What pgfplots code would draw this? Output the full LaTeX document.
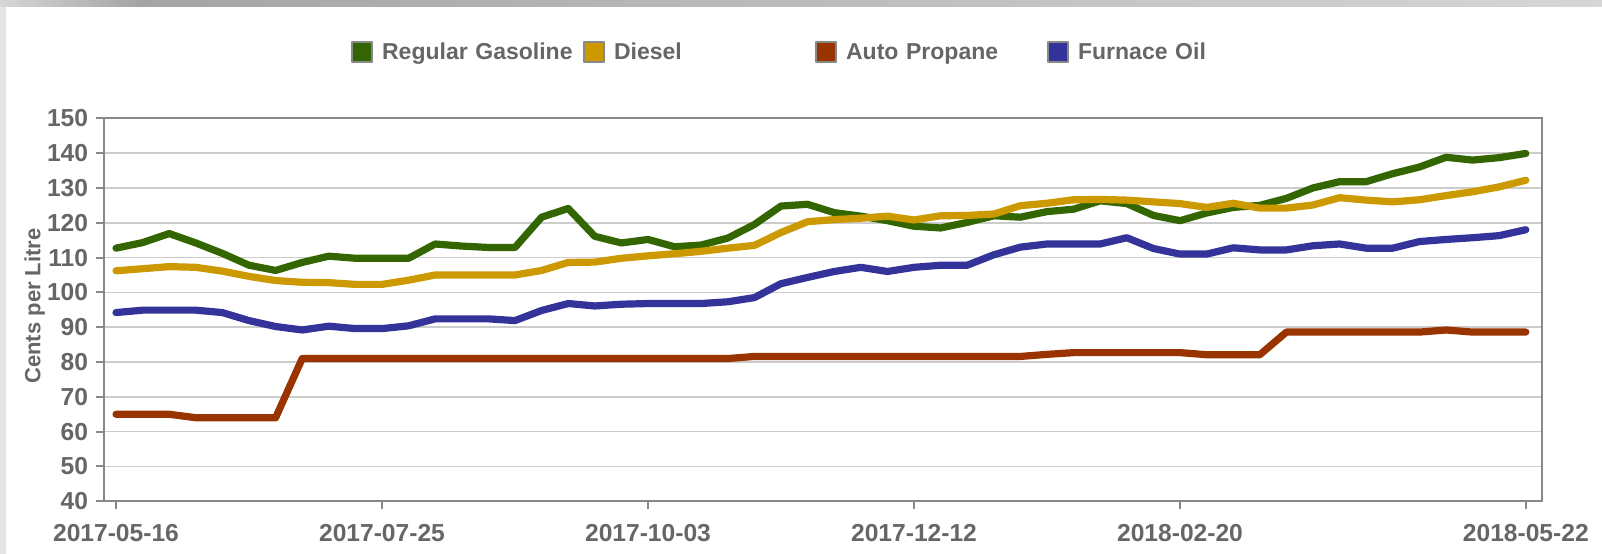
\documentclass[border=0pt]{standalone}
\usepackage{pgfplots}
\pgfplotsset{compat=1.18}
\usepackage{pgfplotstable}
\usepackage{fontspec}
\setmainfont{Liberation Sans}
\definecolor{cGas}{HTML}{336600}
\definecolor{cDie}{HTML}{CC9900}
\definecolor{cPro}{HTML}{993300}
\definecolor{cFur}{HTML}{333399}
\definecolor{txt}{HTML}{666666}
\definecolor{gridc}{HTML}{CCCCCC}
\definecolor{framec}{HTML}{888888}
\definecolor{sidec}{HTML}{E3E5E8}
\definecolor{topa}{HTML}{D6D6D6}
\definecolor{topb}{HTML}{A4A4A4}
\definecolor{topc}{HTML}{C8C8C8}

\pgfplotstableread{
w gas die pro fur
0 112.7 106.2 65.0 94.2
1 114.3 106.8 65.0 94.9
2 116.9 107.4 65.0 94.9
3 114.2 107.2 64.0 94.9
4 111.2 106.1 64.0 94.2
5 107.8 104.6 64.0 91.9
6 106.3 103.4 64.0 90.2
7 108.6 102.9 81.0 89.2
8 110.4 102.8 81.0 90.3
9 109.8 102.3 81.0 89.6
10 109.8 102.3 81.0 89.6
11 109.8 103.5 81.0 90.4
12 113.9 105.0 81.0 92.4
13 113.3 105.0 81.0 92.4
14 112.9 105.0 81.0 92.4
15 112.9 105.0 81.0 91.9
16 121.6 106.3 81.0 94.8
17 124.1 108.6 81.0 96.8
18 116.1 108.7 81.0 96.1
19 114.2 109.8 81.0 96.6
20 115.2 110.5 81.0 96.8
21 113.1 111.1 81.0 96.8
22 113.6 111.8 81.0 96.8
23 115.6 112.7 81.0 97.3
24 119.5 113.5 81.6 98.5
25 124.8 117.2 81.6 102.5
26 125.3 120.3 81.6 104.3
27 122.9 120.9 81.6 106.0
28 121.9 121.3 81.6 107.2
29 120.6 121.9 81.6 106.0
30 119.0 120.8 81.6 107.2
31 118.5 122.0 81.6 107.8
32 120.1 122.1 81.6 107.8
33 122.0 122.5 81.6 110.8
34 121.6 124.9 81.6 113.0
35 123.2 125.6 82.2 113.9
36 123.9 126.6 82.7 113.9
37 126.3 126.7 82.7 113.9
38 125.5 126.5 82.7 115.7
39 122.1 126.0 82.7 112.6
40 120.6 125.5 82.7 111.0
41 122.8 124.4 82.1 111.0
42 124.4 125.6 82.1 112.8
43 125.0 124.2 82.1 112.2
44 127.0 124.2 88.6 112.2
45 130.0 125.1 88.6 113.4
46 131.8 127.2 88.6 113.9
47 131.8 126.5 88.6 112.7
48 134.1 126.0 88.6 112.7
49 136.0 126.6 88.6 114.6
50 138.8 127.8 89.2 115.2
51 138.0 128.9 88.6 115.7
52 138.7 130.3 88.6 116.3
53 139.9 132.2 88.6 118.0
}\fuel

\begin{document}
\begin{tikzpicture}
\path[use as bounding box] (0,0) rectangle (801bp,277bp);
\fill[white] (0,0) rectangle (801bp,277bp);
\fill[sidec] (0,0) rectangle (3bp,277bp);
\shade[left color=topa, right color=topb] (0,273.5bp) rectangle (70bp,277bp);
\shade[left color=topb, right color=topb!80!white] (70bp,273.5bp) rectangle (320bp,277bp);
\shade[left color=topb!80!white, right color=topa] (320bp,273.5bp) rectangle (801bp,277bp);
\begin{axis}[
  scale only axis,
  width=719bp, height=191.5bp,
  at={(52.15bp,26.35bp)}, anchor=south west,
  xmin=-0.44, xmax=53.62, ymin=40, ymax=150,
  xtick={0,10,20,30,40,53},
  xticklabels={2017-05-16,2017-07-25,2017-10-03,2017-12-12,2018-02-20,2018-05-22},
  ytick={40,50,...,150},
  ymajorgrids,
  major grid style={draw=gridc, line width=0.75bp},
  axis line style={draw=framec, line width=1bp},
  tick style={draw=framec, line width=1bp},
  tick align=outside,
  major tick length=4bp,
  xtick pos=left, ytick pos=left,
  /pgf/number format/assume math mode=true,
  tick label style={font=\bfseries\fontsize{12.3bp}{14bp}\selectfont, text=txt, inner sep=0pt},
  yticklabel style={anchor=east, xshift=-3.9bp},
  xticklabel style={anchor=north},
  xticklabel shift=7.5bp,
  ylabel={Cents per Litre},
  every axis y label/.style={at={(axis description cs:-0.0485,0.51)}, rotate=90, anchor=center,
     font=\bfseries\fontsize{11bp}{13bp}\selectfont, text=txt},
  legend columns=4,
  legend style={draw=none, fill=none, at={(0.17135,1.1744)}, anchor=west, inner sep=0pt,
     nodes={inner sep=0pt, text width=100.5bp, align=left, text height=8.2bp, text depth=0pt,
            font=\bfseries\fontsize{11.5bp}{13bp}\selectfont, text=txt},
     /tikz/every odd column/.append style={column sep=4.5bp},
     /tikz/every even column/.append style={column sep=0pt}},
  legend image code/.code={\filldraw[draw=framec, line width=1bp] (0.5bp,-5bp) rectangle (10.5bp,5bp);},
  every axis plot/.append style={line width=3.6bp, line join=round, line cap=round, mark=none},
]
\addplot[color=cGas] table[x=w, y=gas] {\fuel};
\addlegendentry{Regular Gasoline}
\addplot[color=cDie] table[x=w, y=die] {\fuel};
\addlegendentry{Diesel}
\addplot[color=cPro] table[x=w, y=pro] {\fuel};
\addlegendentry{Auto Propane}
\addplot[color=cFur] table[x=w, y=fur] {\fuel};
\addlegendentry{Furnace Oil}
\end{axis}
\end{tikzpicture}
\end{document}
